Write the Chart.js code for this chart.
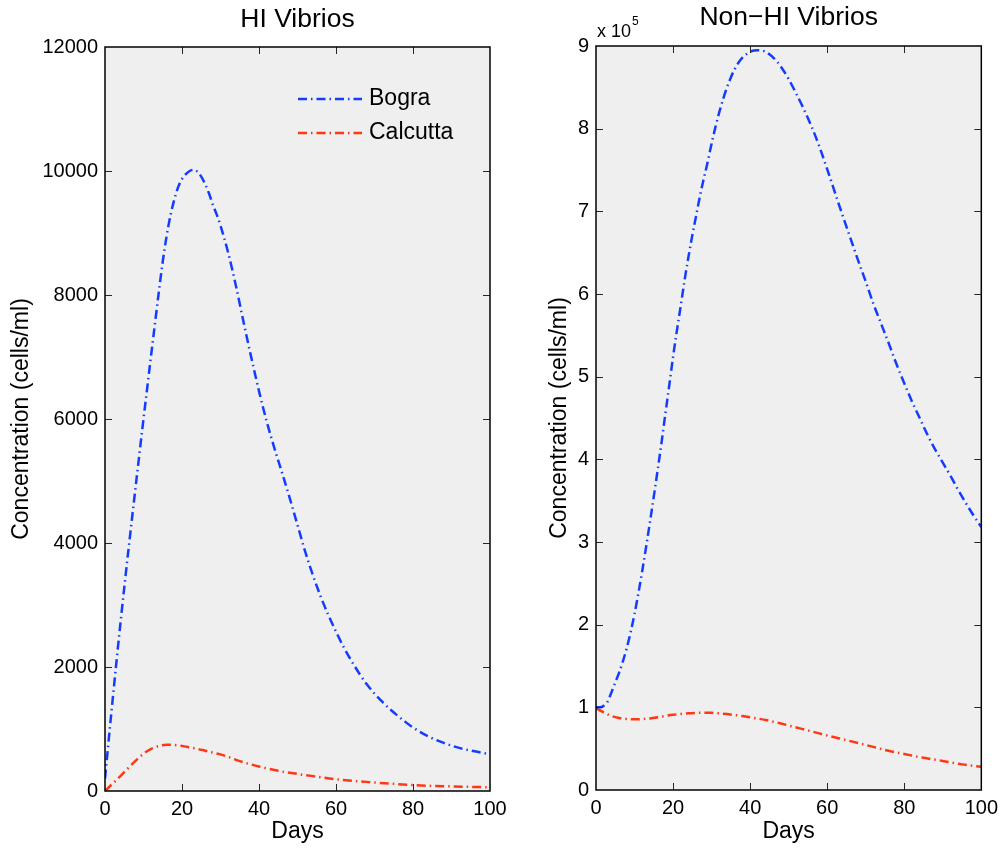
<!DOCTYPE html>
<html>
<head>
<meta charset="utf-8">
<script src="https://cdn.jsdelivr.net/npm/chart.js@4.4.1/dist/chart.umd.min.js"></script>
<style>
  html, body { margin: 0; padding: 0; background: #ffffff; }
  #wrap { position: relative; width: 1004px; height: 851px; }
  #wrap canvas { position: absolute; left: 0; top: 0; }
</style>
</head>
<body>
<div id="wrap">
  <canvas id="hiChart" width="1004" height="851"></canvas>
  <canvas id="nonHiChart" width="1004" height="851"></canvas>
</div>
<script>
// ---------------- DATA ----------------
const seriesNames = ['Bogra', 'Calcutta'];
const xTickValues = [0, 20, 40, 60, 80, 100];

// HI Vibrios (cells/ml)
const hiBograDays = [0,1,2,3,4,5,6,7,8,9,10,11,12,13,14,15,16,17,18,19,20,21,22,23,24,25,26,27,28,29,30,32,34,36,38,40,42,44,46,48,50,52,54,56,58,60,62,64,66,68,70,72,74,76,78,80,84,88,92,96,100];
const hiBograValues = [200,850,1480,2100,2700,3280,3840,4390,4930,5470,6000,6520,7040,7550,8060,8540,8950,9280,9540,9740,9870,9950,10000,10020,9990,9910,9790,9640,9460,9300,9120,8680,8150,7560,6990,6450,5960,5530,5130,4720,4290,3860,3480,3140,2840,2570,2320,2100,1900,1720,1570,1440,1320,1215,1115,1025,880,775,695,640,595];

const hiCalcuttaDays = [0,2,4,6,8,10,12,14,16,18,20,22,24,26,28,30,32,34,36,38,40,42,45,50,55,60,65,70,75,80,85,90,95,100];
const hiCalcuttaValues = [0,120,240,370,490,600,680,725,745,742,728,705,680,650,620,590,550,502,462,427,395,366,325,275,232,190,160,137,115,97,82,74,67,60];

// Non-HI Vibrios (cells/ml)
const nonHiBograDays = [0,1,2,3,4,5,6,7,8,9,10,11,12,13,14,15,16,17,18,19,20,21,22,23,24,25,26,27,28,29,30,31,32,33,34,35,36,37,38,39,40,41,42,43,44,45,46,47,48,50,52,54,56,58,60,62,64,66,68,70,72,74,76,78,80,82,84,86,88,90,92,94,96,98,100];
const nonHiBograValues = [100000,100000,102000,107000,118000,130000,142000,156000,172000,191000,213000,238000,265000,294000,324000,355000,387000,420000,455000,489000,524000,556000,586000,617000,645000,671000,695000,719000,740000,760000,782000,802000,820000,836000,850000,862000,872000,880000,886000,890000,893000,894500,895000,894500,893000,890000,886000,881000,875000,860000,842000,823000,802000,778000,751000,723000,695000,668000,641000,615000,588000,564000,540000,515000,492000,470000,450000,430000,412000,396000,380000,363000,347000,332000,318000];

const nonHiCalcuttaDays = [0,2,4,6,8,10,12,14,16,18,20,22,24,26,28,30,32,34,36,38,40,42,44,46,48,50,55,60,65,70,75,80,85,90,95,100];
const nonHiCalcuttaValues = [99000,94000,89500,87200,86000,85500,85800,86600,88000,89600,91000,92000,92800,93300,93500,93300,92700,91800,90700,89400,88000,86400,84700,82700,80500,78000,72000,66000,60300,54500,48500,43500,39000,35200,31000,28000];

// ---------------- STYLE ----------------
const FONT = '"Liberation Sans", Arial, Helvetica, sans-serif';
Chart.defaults.font.family = FONT;
Chart.defaults.color = '#000000';
const BLUE = 'rgb(20,60,255)';
const RED = 'rgb(255,55,20)';
const DASH = [9, 4, 1.5, 4];

function pts(xs, ys) { return xs.map((d, i) => ({ x: d, y: ys[i] })); }

const axesDecor = {
  id: 'axesDecor',
  beforeDraw(chart) {
    const { ctx, chartArea: a } = chart;
    ctx.save();
    ctx.fillStyle = '#efefef';
    ctx.fillRect(a.left, a.top, a.right - a.left, a.bottom - a.top);
    ctx.restore();
  },
  afterDatasetsDraw(chart) {
    const { ctx, chartArea: a, scales } = chart;
    const x = scales.x, y = scales.y;
    const L = 7;
    ctx.save();
    ctx.strokeStyle = '#262626';
    ctx.lineWidth = 1;
    ctx.beginPath();
    x.ticks.forEach(t => {
      const px = Math.round(x.getPixelForValue(t.value)) + 0.5;
      if (px <= a.left + 2 || px >= a.right - 2) return;
      ctx.moveTo(px, a.bottom); ctx.lineTo(px, a.bottom - L);
      ctx.moveTo(px, a.top); ctx.lineTo(px, a.top + L);
    });
    y.ticks.forEach(t => {
      const py = Math.round(y.getPixelForValue(t.value)) + 0.5;
      if (py <= a.top + 2 || py >= a.bottom - 2) return;
      ctx.moveTo(a.left, py); ctx.lineTo(a.left + L, py);
      ctx.moveTo(a.right, py); ctx.lineTo(a.right - L, py);
    });
    ctx.stroke();
    ctx.strokeStyle = '#000000';
    ctx.lineWidth = 1.5;
    ctx.strokeRect(a.left, a.top, a.right - a.left, a.bottom - a.top);
    ctx.restore();
  }
};

const insideLegend = {
  id: 'insideLegend',
  afterDraw(chart, args, opts) {
    if (!opts || !opts.show) return;
    const { ctx, chartArea: a } = chart;
    ctx.save();
    ctx.font = '23px ' + FONT;
    ctx.textBaseline = 'middle';
    ctx.textAlign = 'left';
    chart.data.datasets.forEach((ds, i) => {
      const yy = a.top + 52 + i * 34;
      ctx.strokeStyle = ds.borderColor;
      ctx.lineWidth = ds.borderWidth;
      ctx.setLineDash(ds.borderDash || []);
      ctx.beginPath();
      ctx.moveTo(a.right - 192, yy);
      ctx.lineTo(a.right - 128, yy);
      ctx.stroke();
      ctx.setLineDash([]);
      ctx.fillStyle = '#000000';
      ctx.fillText(ds.label, a.right - 121, yy);
    });
    ctx.restore();
  }
};

const exponentLabel = {
  id: 'exponentLabel',
  afterDraw(chart, args, opts) {
    if (!opts || !opts.text) return;
    const { ctx, chartArea: a } = chart;
    ctx.save();
    ctx.fillStyle = '#000000';
    ctx.textBaseline = 'alphabetic';
    ctx.textAlign = 'left';
    ctx.font = '18px ' + FONT;
    const base = 'x ' + opts.text;
    ctx.fillText(base, a.left + 1, a.top - 9);
    const w = ctx.measureText(base).width;
    ctx.font = '12px ' + FONT;
    ctx.fillText(opts.sup, a.left + 2 + w, a.top - 21);
    ctx.restore();
  }
};

function makeChart(id, cfg) {
  const datasets = [
    { label: seriesNames[0], data: pts(cfg.bDays, cfg.bVals), borderColor: BLUE },
    { label: seriesNames[1], data: pts(cfg.cDays, cfg.cVals), borderColor: RED }
  ].map(d => Object.assign(d, {
    borderWidth: 2.5, borderDash: DASH, pointRadius: 0, fill: false,
    cubicInterpolationMode: 'monotone'
  }));
  return new Chart(document.getElementById(id), {
    type: 'line',
    data: { datasets },
    options: {
      responsive: false,
      animation: false,
      events: [],
      layout: { padding: cfg.padding },
      plugins: {
        legend: { display: false },
        tooltip: { enabled: false },
        title: {
          display: true, text: cfg.title, fullSize: false,
          font: { size: 26.5, weight: 'normal' }, color: '#000',
          padding: cfg.titlePad
        },
        insideLegend: { show: cfg.legend },
        exponentLabel: cfg.exponent
      },
      scales: {
        x: {
          type: 'linear', min: 0, max: 100,
          afterBuildTicks: s => { s.ticks = xTickValues.map(v => ({ value: v })); },
          ticks: { font: { size: 20 }, color: '#000', padding: cfg.xTickPad, maxRotation: 0, autoSkip: false,
                   callback: v => String(v) },
          grid: { display: false, drawTicks: false },
          border: { display: false },
          title: { display: true, text: 'Days', font: { size: 23 }, color: '#000', padding: { top: 0, bottom: 6 } },
          afterFit: s => { s.height = cfg.xHeight; }
        },
        y: {
          type: 'linear', min: 0, max: cfg.yMax,
          afterBuildTicks: s => { s.ticks = cfg.yTicks.map(v => ({ value: v })); },
          ticks: { font: { size: 20 }, color: '#000', padding: 7, autoSkip: false, callback: cfg.yFmt },
          grid: { display: false, drawTicks: false },
          border: { display: false },
          title: { display: true, text: 'Concentration (cells/ml)', font: { size: 23 }, color: '#000',
                   padding: { top: cfg.yTitlePad, bottom: 0 } },
          afterFit: s => { s.width = cfg.yWidth; }
        }
      }
    },
    plugins: [axesDecor, insideLegend, exponentLabel]
  });
}

const hiYTicks = [0, 2000, 4000, 6000, 8000, 10000, 12000];
const nonHiYTicks = [0, 100000, 200000, 300000, 400000, 500000, 600000, 700000, 800000, 900000];

makeChart('hiChart', {
  title: 'HI Vibrios',
  bDays: hiBograDays, bVals: hiBograValues, cDays: hiCalcuttaDays, cVals: hiCalcuttaValues,
  padding: { left: 0, right: 514, top: 0, bottom: 0 },
  titlePad: { top: 3.8, bottom: 11.4 },
  yMax: 12000, yTicks: hiYTicks, yFmt: v => String(v),
  yWidth: 105, yTitlePad: 8, xHeight: 60, xTickPad: 6,
  legend: true, exponent: {}
});

makeChart('nonHiChart', {
  title: 'Non\u2212HI Vibrios',
  bDays: nonHiBograDays, bVals: nonHiBograValues, cDays: nonHiCalcuttaDays, cVals: nonHiCalcuttaValues,
  padding: { left: 502, right: 22, top: 0, bottom: 0 },
  titlePad: { top: 2.2, bottom: 12 },
  yMax: 900000, yTicks: nonHiYTicks, yFmt: v => String(Math.round(v / 1e5)),
  yWidth: 94, yTitlePad: 44, xHeight: 61, xTickPad: 6,
  legend: false, exponent: { text: '10', sup: '5' }
});
</script>
</body>
</html>
